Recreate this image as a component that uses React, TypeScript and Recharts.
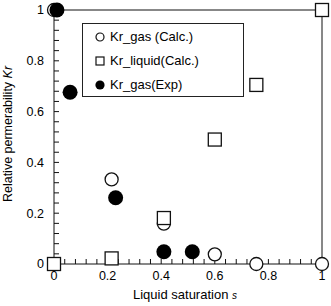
import { Label, Legend, ReferenceLine, Scatter, ScatterChart, XAxis, YAxis } from "recharts";

// values (liquid saturation s vs relative permeability Kr)
const gasCalcS = [0, 0.215, 0.41, 0.6, 0.755, 1.0];
const gasCalcKr = [1.0, 0.333, 0.159, 0.038, 0.0, 0.0];
const liquidCalcS = [0, 0.215, 0.41, 0.6, 0.755, 1.0];
const liquidCalcKr = [0.0, 0.022, 0.181, 0.49, 0.705, 1.0];
const gasExpS = [0.011, 0.06, 0.23, 0.41, 0.516];
const gasExpKr = [1.0, 0.676, 0.261, 0.048, 0.048];

const seriesNames = ["Kr_gas (Calc.)", "Kr_liquid(Calc.)", "Kr_gas(Exp)"];

// minor ticks every 0.04, labels only on 0.2 steps
const axisTicks = [
  0, 0.04, 0.08, 0.12, 0.16, 0.2, 0.24, 0.28, 0.32, 0.36, 0.4, 0.44, 0.48, 0.52,
  0.56, 0.6, 0.64, 0.68, 0.72, 0.76, 0.8, 0.84, 0.88, 0.92, 0.96, 1,
];

const FONT = "'Liberation Sans', Arial, sans-serif";
const INK = "#111";

const toPoints = (xs: number[], ys: number[]) => xs.map((s, i) => ({ s, kr: ys[i] }));

const fmtTick = (v: number) => {
  const k = v * 5;
  if (Math.abs(k - Math.round(k)) > 1e-6) return "";
  return String(Math.round(k * 2) / 10);
};

const OpenCircle = (p: any) => (
  <circle cx={p.cx} cy={p.cy} r={6.5} fill="#fff" stroke={INK} strokeWidth={1.3} />
);
const OpenSquare = (p: any) => (
  <rect x={p.cx - 6.5} y={p.cy - 6.5} width={13} height={13} fill="#fff" stroke={INK} strokeWidth={1.3} />
);
const FilledCircle = (p: any) => <circle cx={p.cx} cy={p.cy} r={7.5} fill="#000" />;

const legendIcon = (i: number) => {
  if (i === 0) return <circle cx={6} cy={6} r={4} fill="#fff" stroke={INK} strokeWidth={1.2} />;
  if (i === 1) return <rect x={2} y={2} width={8} height={8} fill="#fff" stroke={INK} strokeWidth={1.2} />;
  return <circle cx={6} cy={6} r={4.6} fill="#000" />;
};

const renderLegend = (props: any) => {
  // recharts sorts legend entries by name; put them back in series order
  const items = [...(props.payload ?? [])].sort(
    (a: any, b: any) => seriesNames.indexOf(a.value) - seriesNames.indexOf(b.value),
  );
  return (
    <div
      style={{
        border: "1px solid #222",
        width: 162,
        height: 74,
        boxSizing: "border-box",
        padding: "1px 0 0 11px",
        fontFamily: FONT,
        fontSize: 13,
        background: "#fff",
      }}
    >
      {items.map((entry: any) => (
        <div
          key={entry.value}
          style={{ display: "flex", alignItems: "center", height: 24, lineHeight: "24px" }}
        >
          <svg width={12} height={12} style={{ marginRight: 4 }}>
            {legendIcon(seriesNames.indexOf(entry.value))}
          </svg>
          <span style={{ color: "#000" }}>{entry.value}</span>
        </div>
      ))}
    </div>
  );
};

export default function App() {
  return (
    <div style={{ position: "absolute", left: 0, top: 0 }}>
      <ScatterChart
        width={331}
        height={306}
        margin={{ top: 10, right: 9, left: 0, bottom: 0 }}
        style={{ fontFamily: FONT }}
      >
        <XAxis
          type="number"
          dataKey="s"
          domain={[0, 1]}
          ticks={axisTicks}
          interval={0}
          tickFormatter={fmtTick}
          height={42}
          tickSize={-5}
          tickMargin={12}
          axisLine={{ stroke: INK }}
          tickLine={{ stroke: INK }}
          tick={{ fontSize: 12.5, fill: "#000", fontFamily: FONT }}
        >
          <Label
            content={({ viewBox }: any) => (
              <text
                x={viewBox.x + viewBox.width / 2 - 3}
                y={viewBox.y + 35}
                textAnchor="middle"
                fontSize={13}
                fontFamily={FONT}
                fill="#000"
              >
                Liquid saturation{" "}
                <tspan fontStyle="italic" fontSize={10}>
                  s
                </tspan>
              </text>
            )}
          />
        </XAxis>
        <YAxis
          type="number"
          dataKey="kr"
          domain={[0, 1]}
          ticks={axisTicks}
          interval={0}
          tickFormatter={fmtTick}
          width={54}
          tickSize={-5}
          tickMargin={15}
          axisLine={{ stroke: INK }}
          tickLine={{ stroke: INK }}
          tick={{ fontSize: 12.5, fill: "#000", fontFamily: FONT }}
        >
          <Label
            content={({ viewBox }: any) => {
              const cx = 12;
              const cy = viewBox.y + viewBox.height / 2 - 3;
              return (
                <text
                  x={cx}
                  y={cy}
                  transform={`rotate(-90 ${cx} ${cy})`}
                  textAnchor="middle"
                  fontSize={12.5}
                  fontFamily={FONT}
                  fill="#000"
                >
                  Relative permerability <tspan fontStyle="italic">Kr</tspan>
                </text>
              );
            }}
          />
        </YAxis>
        <ReferenceLine y={1} stroke={INK} strokeWidth={1} />
        <ReferenceLine x={1} stroke={INK} strokeWidth={1} />
        <Scatter
          name={seriesNames[0]}
          data={toPoints(gasCalcS, gasCalcKr)}
          shape={OpenCircle}
          isAnimationActive={false}
        />
        <Scatter
          name={seriesNames[1]}
          data={toPoints(liquidCalcS, liquidCalcKr)}
          shape={OpenSquare}
          isAnimationActive={false}
        />
        <Scatter
          name={seriesNames[2]}
          data={toPoints(gasExpS, gasExpKr)}
          shape={FilledCircle}
          isAnimationActive={false}
        />
        <Legend
          layout="vertical"
          align="center"
          verticalAlign="middle"
          content={renderLegend}
          wrapperStyle={{ left: 82, top: 23, width: 162 }}
        />
      </ScatterChart>
    </div>
  );
}
